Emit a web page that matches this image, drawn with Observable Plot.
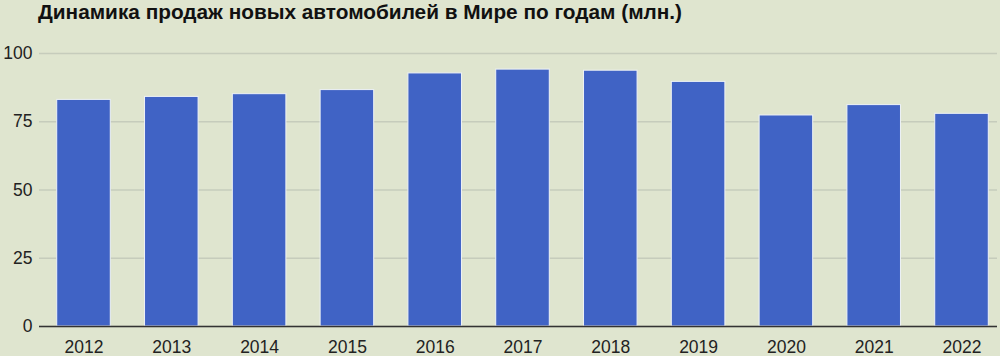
<!DOCTYPE html>
<html><head><meta charset="utf-8">
<script src="https://cdn.jsdelivr.net/npm/d3@7"></script>
<script src="https://cdn.jsdelivr.net/npm/@observablehq/plot@0.6"></script>
<style>
html,body{margin:0;padding:0;background:#dfe5cf;width:1000px;height:356px;overflow:hidden;}
#title{height:36px;line-height:35px;padding-left:38px;font:bold 20.8px "Liberation Sans",Arial,sans-serif;color:#111;white-space:nowrap;}
svg{display:block;}
</style></head>
<body>
<div id="title">Динамика продаж новых автомобилей в Мире по годам (млн.)</div>
<div id="chart"></div>
<script>
const years = ["2012","2013","2014","2015","2016","2017","2018","2019","2020","2021","2022"];
const sales = [83.0, 84.1, 85.1, 86.6, 92.7, 94.1, 93.7, 89.6, 77.3, 81.1, 77.9];
const yTicks = [0, 25, 50, 75, 100];
const data = years.map((y, i) => ({year: y, value: sales[i]}));

const chart = Plot.plot({
  width: 1000,
  height: 320,
  marginLeft: 39,
  marginRight: 3,
  marginTop: 17,
  marginBottom: 30,
  style: {background: "transparent", fontFamily: "'Liberation Sans', Arial, sans-serif", fontSize: "17.5px", color: "#222"},
  x: {domain: years, range: [41.8, 1003.2], paddingInner: 0.39, paddingOuter: 0.17, round: false, label: null},
  y: {domain: [0, 100], label: null},
  marks: [
    Plot.gridY(yTicks, {stroke: "#c6ccbc", strokeOpacity: 1, strokeWidth: 1.5}),
    Plot.axisY(yTicks, {tickSize: 0, tickPadding: 7, label: null, fontSize: 17.5}),
    Plot.axisX({tickSize: 0, tickPadding: 14, label: null, fontSize: 17.5}),
    Plot.barY(data, {x: "year", y: "value", fill: "#4063c5", stroke: "#eef2f6", strokeWidth: 1}),
    Plot.ruleY([0], {stroke: "#333", strokeWidth: 1.5})
  ]
});
document.getElementById("chart").appendChild(chart);
</script>
</body></html>
